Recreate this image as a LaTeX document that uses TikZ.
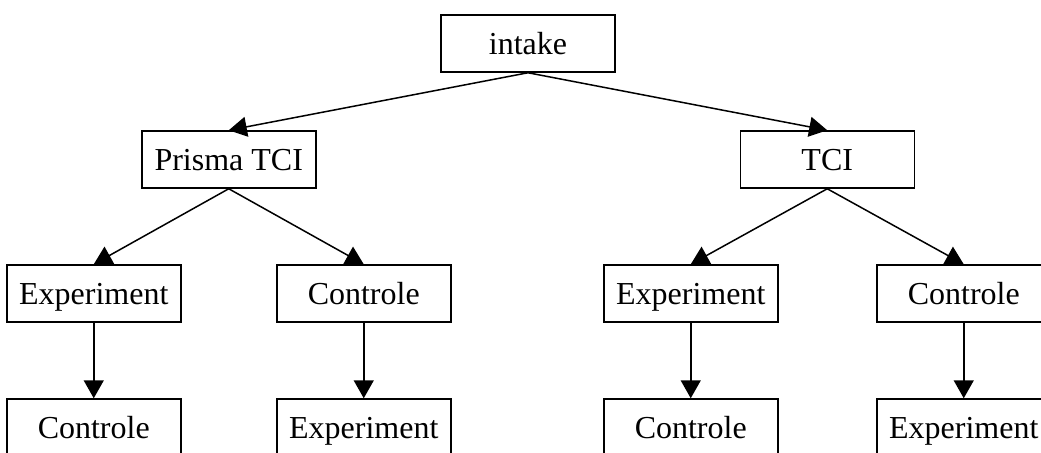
\documentclass[tikz,border=0pt]{standalone}
\usepackage{fontspec}
\setmainfont{Liberation Serif}
\usetikzlibrary{arrows.meta}

\begin{document}
\begin{tikzpicture}[level distance=58pt,
  level 1/.style={sibling distance=299.25pt},
  level 2/.style={sibling distance=135pt, level distance=67pt},
  level 3/.style={level distance=67pt},
  grow=down, line width=0.75pt,
  parent anchor=south, child anchor=north,
  stage/.style={draw, minimum width=87pt, minimum height=28.5pt,
    inner sep=0pt, text height=11pt, text depth=0.5pt,
    font=\fontsize{16}{19}\selectfont},
  edge from parent/.style={draw, -{Triangle[length=9pt,width=10pt]}}]
  \useasboundingbox (0,0) rectangle (520.5pt,-226pt);
  \node[stage] (intake) at (264pt,-21.75pt) {intake}
    child {node[stage] (prisma) {Prisma TCI}
      child {node[stage] (pexp) {Experiment}
        child {node[stage] (pexpcon) {Controle}}
      }
      child {node[stage] (pcon) {Controle}
        child {node[stage] (pconexp) {Experiment}}
      }
    }
    child {node[stage] (tci) {TCI}
      child[sibling distance=136.5pt] {node[stage] (texp) {Experiment}
        child {node[stage] (texpcon) {Controle}}
      }
      child[sibling distance=136.5pt] {node[stage] (tcon) {Controle}
        child {node[stage] (tconexp) {Experiment}}
      }
    };
\end{tikzpicture}
\end{document}
